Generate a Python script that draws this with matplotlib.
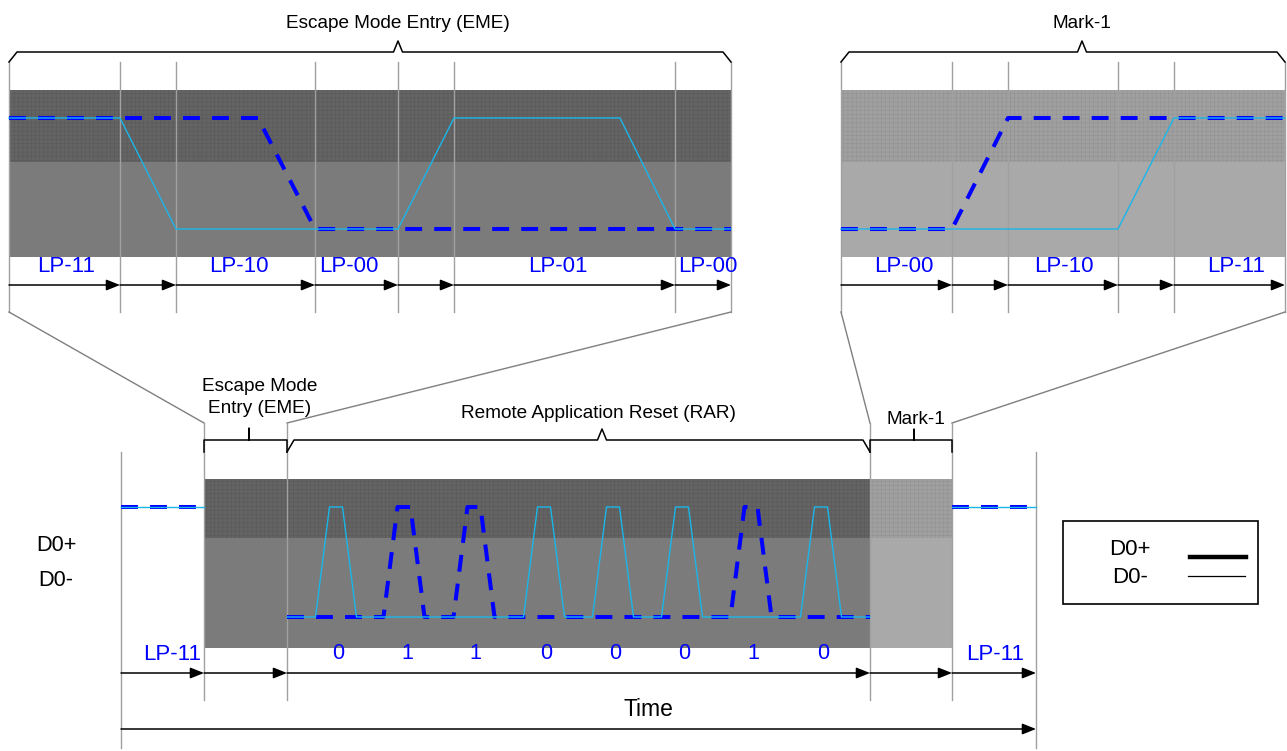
import numpy as np
import matplotlib.pyplot as plt
from matplotlib.patches import Rectangle

plt.rcParams['font.family'] = ['Liberation Sans', 'DejaVu Sans']
plt.rcParams['hatch.linewidth'] = 0.4

# --- datos (en pixeles de la imagen) ---
# panel superior izquierdo: Escape Mode Entry
eme_edges = [9, 120, 176, 315, 398, 454, 675, 731]
eme_labels = ['LP-11', 'LP-10', 'LP-00', 'LP-01', 'LP-00']
eme_label_x = [66, 239, 349, 558, 708]
eme_dp_t = [9, 258, 315, 731]
eme_dp_v = [1, 1, 0, 0]
eme_dn_t = [9, 120, 176, 398, 454, 620, 675, 731]
eme_dn_v = [1, 1, 0, 0, 1, 1, 0, 0]

# panel superior derecho: Mark-1
mark_edges = [841, 952, 1008, 1118, 1174, 1285]
mark_labels = ['LP-00', 'LP-10', 'LP-11']
mark_label_x = [904, 1064, 1236]
mark_dp_t = [841, 952, 1008, 1285]
mark_dp_v = [0, 0, 1, 1]
mark_dn_t = [841, 1118, 1174, 1285]
mark_dn_v = [0, 0, 1, 1]

# panel inferior
low_edges = [121, 204, 287, 870, 952, 1036]
bits = [0, 1, 1, 0, 0, 0, 1, 0]
bit_x = [336, 404, 474, 544, 613, 682, 751, 821]
bit_label_x = [338, 407, 475, 546, 615, 684, 753, 823]
lp11_left = [121, 204]
lp11_right = [952, 1036]

CYAN = '#1ab6ea'
BLUE = '#0000ff'
GRID = '#a0a0a0'
CONN = '#7f7f7f'

fig = plt.figure(figsize=(12.87, 7.51), dpi=100)
ax = fig.add_axes([0, 0, 1, 1])
ax.set_xlim(0, 1287)
ax.set_ylim(751, 0)
ax.axis('off')


def band(x0, x1, y0, ymid, y1, top, bot, hc):
    ax.add_patch(Rectangle((x0, y0), x1 - x0, ymid - y0, facecolor=top,
                           edgecolor=hc, lw=0, hatch='++++', zorder=1))
    ax.add_patch(Rectangle((x0, ymid), x1 - x0, y1 - ymid, facecolor=bot,
                           edgecolor=bot, lw=0, zorder=1))


def senal(t, v, yh, yl, dashed):
    y = [yh if s else yl for s in v]
    if dashed:
        ax.plot(t, y, color=BLUE, lw=2.9, ls=(0, (4.2, 3.0)), zorder=4,
                solid_joinstyle='miter')
    else:
        ax.plot(t, y, color=CYAN, lw=1.0, zorder=5)


def flechas(edges, y):
    for a, b in zip(edges[:-1], edges[1:]):
        ax.annotate('', xy=(b, y), xytext=(a, y),
                    arrowprops=dict(arrowstyle='-|>,head_length=0.55,head_width=0.22',
                                    color='black', lw=1.1, mutation_scale=15,
                                    shrinkA=0, shrinkB=0), zorder=6)


def llave(x0, x1, y, xm, h=10, d=8, pico=11, ancho=4.5, fin='chamfer'):
    if fin == 'chamfer':
        xs = [x0, x0 + d, xm - ancho, xm, xm + ancho, x1 - d, x1]
        ys = [y + h, y, y, y - pico, y, y, y + h]
    else:
        xs = [x0, x0, xm - ancho, xm, xm + ancho, x1, x1]
        ys = [y + h, y, y, y - pico, y, y, y + h]
    ax.plot(xs, ys, color='black', lw=1.1, zorder=6)


# ---- panel EME ----
band(9, 731, 90, 162, 257, '#646464', '#7b7b7b', '#595959')
for x in eme_edges:
    ax.plot([x, x], [62, 312], color=GRID, lw=1.0, zorder=2)
senal(eme_dp_t, eme_dp_v, 118, 229, True)
senal(eme_dn_t, eme_dn_v, 118, 229, False)
for lab, x in zip(eme_labels, eme_label_x):
    ax.text(x, 272, lab, color=BLUE, fontsize=16, ha='center', va='baseline')
flechas(eme_edges, 285)
llave(9, 731, 52, 398)
ax.text(398, 28, 'Escape Mode Entry (EME)', fontsize=13.7, ha='center', va='baseline')

# ---- panel Mark-1 ----
band(841, 1285, 90, 162, 257, '#a0a0a0', '#a9a9a9', '#929292')
for x in mark_edges:
    ax.plot([x, x], [62, 312], color=GRID, lw=1.0, zorder=2)
senal(mark_dp_t, mark_dp_v, 118, 229, True)
senal(mark_dn_t, mark_dn_v, 118, 229, False)
for lab, x in zip(mark_labels, mark_label_x):
    ax.text(x, 272, lab, color=BLUE, fontsize=16, ha='center', va='baseline')
flechas(mark_edges, 285)
llave(841, 1285, 52, 1082)
ax.text(1082, 28, 'Mark-1', fontsize=13.7, ha='center', va='baseline')

# ---- lineas de zoom ----
ax.plot([9, 204], [312, 423], color=CONN, lw=1.0)
ax.plot([731, 287], [312, 423], color=CONN, lw=1.0)
ax.plot([841, 870], [312, 423], color=CONN, lw=1.0)
ax.plot([1285, 952], [312, 423], color=CONN, lw=1.0)

# ---- panel inferior ----
band(204, 870, 479, 538, 648, '#646464', '#7b7b7b', '#595959')
band(870, 952, 479, 538, 648, '#a0a0a0', '#a9a9a9', '#929292')
for x in low_edges:
    if x in (121, 1036):
        ax.plot([x, x], [452, 748], color=GRID, lw=1.0, zorder=2)
    else:
        ax.plot([x, x], [423, 700], color=GRID, lw=1.0, zorder=2)

yh, yl = 507, 617
for seg in (lp11_left, lp11_right):
    senal(seg, [1, 1], yh, yl, True)
    senal(seg, [1, 1], yh, yl, False)

# RAR: D0+ pulsa en los 1, D0- pulsa en los 0
dp_t, dp_v, dn_t, dn_v = [287], [0], [287], [0]
for b, c in zip(bits, bit_x):
    t = [c - 20.5, c - 6.5, c + 6.5, c + 20.5]
    if b:
        dp_t += t
        dp_v += [0, 1, 1, 0]
    else:
        dn_t += t
        dn_v += [0, 1, 1, 0]
dp_t.append(870); dp_v.append(0)
dn_t.append(870); dn_v.append(0)
senal(dp_t, dp_v, yh, yl, True)
senal(dn_t, dn_v, yh, yl, False)

for b, x in zip(bits, bit_label_x):
    ax.text(x, 659, str(b), color=BLUE, fontsize=15.5, ha='center', va='baseline')
ax.text(172, 660, 'LP-11', color=BLUE, fontsize=16, ha='center', va='baseline')
ax.text(995, 660, 'LP-11', color=BLUE, fontsize=16, ha='center', va='baseline')

flechas(low_edges, 673)
flechas([121, 1036], 729)
ax.text(648, 716, 'Time', fontsize=16.5, ha='center', va='baseline')

llave(204, 287, 440, 249, h=12, pico=12, ancho=0.01, fin='vert')
llave(287, 870, 440, 602, h=12, d=7, pico=11, ancho=4.5)
llave(870, 952, 440, 914, h=12, pico=11, ancho=0.01, fin='vert')
ax.text(260, 391, 'Escape Mode', fontsize=13.7, ha='center', va='baseline')
ax.text(260, 413, 'Entry (EME)', fontsize=13.7, ha='center', va='baseline')
ax.text(598, 418, 'Remote Application Reset (RAR)', fontsize=13.7, ha='center', va='baseline')
ax.text(916, 424, 'Mark-1', fontsize=13.7, ha='center', va='baseline')

ax.text(56, 551, 'D0+', fontsize=15.7, ha='center', va='baseline')
ax.text(56, 586, 'D0-', fontsize=15.7, ha='center', va='baseline')

# leyenda
ax.add_patch(Rectangle((1063, 521), 195, 83, facecolor='white', edgecolor='black', lw=1.2))
ax.text(1130, 555, 'D0+', fontsize=16, ha='center', va='baseline')
ax.text(1130, 583, 'D0-', fontsize=16, ha='center', va='baseline')
ax.plot([1190, 1246], [557, 557], color='black', lw=3.2)
ax.plot([1188, 1245], [576, 576], color='black', lw=0.9)

fig.savefig('out.png', dpi=100)
